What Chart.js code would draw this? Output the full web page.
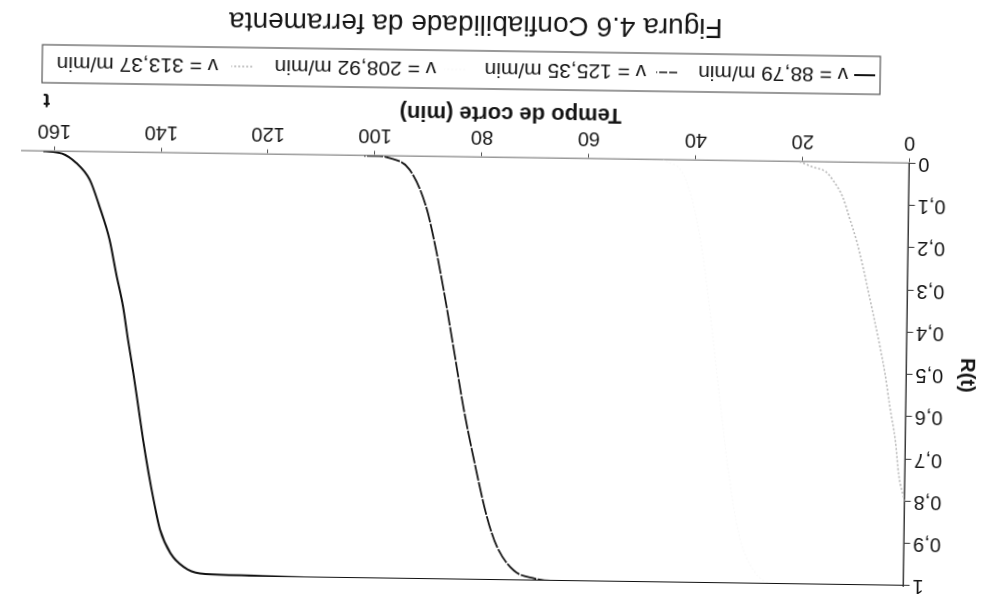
<!DOCTYPE html>
<html>
<head>
<meta charset="utf-8">
<title>Figura 4.6 Confiabilidade da ferramenta</title>
<script src="https://cdn.jsdelivr.net/npm/chart.js@4.4.1/dist/chart.umd.min.js"></script>
<style>
  html, body { margin: 0; padding: 0; background: #fff; overflow: hidden; }
  #page {
    position: absolute; left: 0; top: 0; width: 984px; height: 600px;
    background: #fff;
    /* the printed page sits upside down and slightly askew */
    transform: rotate(180.8deg); transform-origin: 50% 50%;
  }
  canvas { display: block; }
</style>
</head>
<body>
<div id="page"><canvas id="chart" width="984" height="600"></canvas></div>
<script>
// ---- texts ----
const figureTitle = 'Figura 4.6 Confiabilidade da ferramenta';
const xAxisTitle = 'Tempo de corte (min)';
const xEndLabel = 't';
const yAxisTitle = 'R(t)';

// ---- tick labels ----
const xTickValues = [0, 20, 40, 60, 80, 100, 120, 140, 160];
const yTickValues = [0, 0.1, 0.2, 0.3, 0.4, 0.5, 0.6, 0.7, 0.8, 0.9, 1];
const yTickLabels = ['0', '0,1', '0,2', '0,3', '0,4', '0,5', '0,6', '0,7', '0,8', '0,9', '1'];

// ---- series (cutting speed) ----
const seriesNames = ['v = 88,79 m/min', 'v = 125,35 m/min', 'v = 208,92 m/min', 'v = 313,37 m/min'];

// v = 88,79 m/min
const tV1 = [0, 112, 125, 131.6, 134.7, 137.2, 139.2, 140.5, 141.5, 142.6, 143.6, 144.6, 145.7, 146.7, 148.1, 149.4, 151.4, 153.3, 155.9, 158.5, 162];
const rV1 = [1, 1, 0.997, 0.994, 0.979, 0.947, 0.892, 0.821, 0.758, 0.680, 0.601, 0.522, 0.443, 0.365, 0.286, 0.207, 0.128, 0.065, 0.026, 0.005, 0];

// v = 125,35 m/min
const tV2 = [0, 66, 69, 72.9, 76.1, 78.1, 80.8, 82.8, 84.5, 86.2, 88.3, 90.3, 93.5, 97.5, 100, 102];
const rV2 = [1, 1, 0.995, 0.977, 0.922, 0.851, 0.709, 0.591, 0.472, 0.354, 0.221, 0.118, 0.031, 0.004, 0, 0];

// v = 208,92 m/min (printed almost white)
const tV3 = [0, 24, 28, 31, 33, 35, 37, 39, 42, 46];
const rV3 = [1, 1, 0.97, 0.88, 0.74, 0.55, 0.35, 0.18, 0.04, 0];

// v = 313,37 m/min
const tV4 = [0, 1.2, 1.9, 3.0, 4.0, 5.0, 6.1, 7.1, 8.4, 9.7, 11.1, 12.4, 14.0, 15.6, 18.1, 20.5];
const rV4 = [0.80, 0.737, 0.658, 0.579, 0.500, 0.437, 0.374, 0.319, 0.248, 0.185, 0.130, 0.082, 0.047, 0.023, 0.012, 0];

const toPoints = (ts, rs) => ts.map((t, i) => ({ x: t, y: rs[i] }));

const FONT = '"Liberation Sans", Arial, Helvetica, sans-serif';
const INK = '#151515';

const datasets = [
  { label: seriesNames[0], data: toPoints(tV1, rV1), borderColor: '#111', borderWidth: 2, borderDash: [] },
  { label: seriesNames[1], data: toPoints(tV2, rV2), borderColor: '#161616', borderWidth: 1.8, borderDash: [16, 1.5] },
  { label: seriesNames[2], data: toPoints(tV3, rV3), borderColor: '#f9f9f9', borderWidth: 1.2, borderDash: [2, 2] },
  { label: seriesNames[3], data: toPoints(tV4, rV4), borderColor: '#b9b9b9', borderWidth: 1.6, borderDash: [2, 2] }
].map(d => Object.assign(d, {
  pointRadius: 0, fill: false, cubicInterpolationMode: 'monotone', order: 0
}));

// caption, boxed legend, axis title and axis-end label
const pageText = {
  id: 'pageText',
  afterDraw(chart) {
    const ctx = chart.ctx;
    ctx.save();
    ctx.fillStyle = INK;
    ctx.textBaseline = 'middle';

    // x axis title
    ctx.font = 'bold 22px ' + FONT;
    ctx.textAlign = 'center';
    ctx.fillText(xAxisTitle, 476, 487);

    // label at the end of the time axis
    ctx.font = 'bold 20px ' + FONT;
    ctx.fillText(xEndLabel, 940, 494);

    // legend box
    const box = { left: 107, top: 511, right: 945, bottom: 549 };
    ctx.strokeStyle = '#555';
    ctx.lineWidth = 1.2;
    ctx.setLineDash([]);
    ctx.strokeRect(box.left, box.top, box.right - box.left, box.bottom - box.top);

    const lineX = [112, 310, 522, 735];
    const textX = [139, 341, 551, 769];
    const midY = (box.top + box.bottom) / 2;
    ctx.font = '21px ' + FONT;
    ctx.textAlign = 'left';
    chart.data.datasets.forEach((ds, i) => {
      ctx.save();
      ctx.strokeStyle = ds.borderColor;
      ctx.lineWidth = i === 1 ? 1.3 : ds.borderWidth;
      ctx.setLineDash(i === 1 ? [8, 2] : (ds.borderDash || []));
      ctx.beginPath();
      ctx.moveTo(lineX[i], midY);
      ctx.lineTo(lineX[i] + 21, midY);
      ctx.stroke();
      ctx.restore();
      ctx.fillText(ds.label, textX[i], midY + 1);
    });

    // caption
    ctx.font = '28px ' + FONT;
    ctx.textAlign = 'center';
    ctx.fillText(figureTitle, 512, 576);
    ctx.restore();
  }
};

new Chart(document.getElementById('chart'), {
  type: 'line',
  data: { datasets },
  options: {
    responsive: false,
    animation: false,
    events: [],
    layout: { padding: { left: 0, right: 20, top: 20, bottom: 0 } },
    plugins: { legend: { display: false }, title: { display: false }, tooltip: { enabled: false } },
    scales: {
      x: {
        type: 'linear',
        min: 0,
        max: 166,
        afterBuildTicks: s => { s.ticks = xTickValues.map(v => ({ value: v })); },
        afterFit: s => { s.height = 157.5; },
        ticks: { color: INK, font: { family: FONT, size: 20 }, padding: 4, maxRotation: 0, autoSkip: false },
        grid: { drawOnChartArea: false, drawTicks: true, tickLength: 5, color: '#555', lineWidth: 1 },
        border: { display: true, color: '#9a9a9a', width: 1.5 }
      },
      y: {
        type: 'linear',
        min: 0,
        max: 1,
        afterBuildTicks: s => { s.ticks = yTickValues.map(v => ({ value: v })); },
        afterFit: s => { s.width = 76.5; },
        ticks: {
          color: INK, font: { family: FONT, size: 20 }, padding: 3, autoSkip: false,
          callback: (v, i) => yTickLabels[i]
        },
        grid: { drawOnChartArea: false, drawTicks: true, tickLength: 6, color: '#333', lineWidth: 1 },
        border: { display: true, color: '#3a3a3a', width: 1.5 },
        title: { display: true, text: yAxisTitle, color: INK, font: { family: FONT, size: 20, weight: 'bold' }, padding: { top: 4, bottom: 0 } }
      }
    }
  },
  plugins: [pageText]
});
</script>
</body>
</html>
